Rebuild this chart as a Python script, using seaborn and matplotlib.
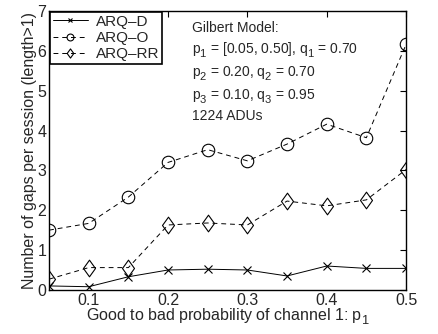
import matplotlib
matplotlib.use("Agg")
import matplotlib.pyplot as plt
from matplotlib.path import Path
import matplotlib._mathtext as _mt
import seaborn as sns
import pandas as pd

p1 = [0.05, 0.10, 0.15, 0.20, 0.25, 0.30, 0.35, 0.40, 0.45, 0.50]
arq_d = [0.10, 0.08, 0.33, 0.50, 0.52, 0.50, 0.35, 0.60, 0.54, 0.54]
arq_o = [1.50, 1.67, 2.33, 3.20, 3.52, 3.24, 3.66, 4.16, 3.82, 6.16]
arq_rr = [0.27, 0.56, 0.56, 1.63, 1.68, 1.63, 2.23, 2.11, 2.26, 3.02]
series = ["ARQ\u2013D", "ARQ\u2013O", "ARQ\u2013RR"]
xticks = [0.1, 0.2, 0.3, 0.4, 0.5]
yticks = [0, 1, 2, 3, 4, 5, 6, 7]

# MATLAB-like subscripts: larger and lower
try:
    _mt.FontConstantsBase.sub1 = 0.5
    _mt.SHRINK_FACTOR = 0.8
except Exception:
    pass

sns.set_theme(style="white")
plt.rcParams["font.family"] = ["Liberation Sans", "DejaVu Sans"]
plt.rcParams["mathtext.fontset"] = "custom"
plt.rcParams["mathtext.rm"] = "Liberation Sans"
plt.rcParams["mathtext.it"] = "Liberation Sans"
plt.rcParams["xtick.direction"] = "in"
plt.rcParams["ytick.direction"] = "in"

fig = plt.figure(figsize=(4.38, 3.34), dpi=100)
ax = fig.add_axes([0.112, 0.132, 0.815, 0.835])

diamond = Path([(0, 1), (0.72, 0), (0, -1), (-0.72, 0), (0, 1)],
               [Path.MOVETO, Path.LINETO, Path.LINETO, Path.LINETO, Path.CLOSEPOLY])

styles = [
    dict(marker="x", linestyle="-", ms=6, mfc="black"),
    dict(marker="o", linestyle="--", ms=9, mfc="none"),
    dict(marker=diamond, linestyle="--", ms=12, mfc="none"),
]

for name, vals, st in zip(series, [arq_d, arq_o, arq_rr], styles):
    df = pd.DataFrame({"p1": p1, "gaps": vals})
    sns.lineplot(data=df, x="p1", y="gaps", ax=ax, color="black", lw=0.7,
                 label=name, marker=st["marker"],
                 markersize=st["ms"], markeredgewidth=0.8,
                 markerfacecolor=st["mfc"], markeredgecolor="black",
                 dashes=False if st["linestyle"] == "-" else (5, 4))
    ax.lines[-1].set_linestyle((0, (5, 4)) if st["linestyle"] == "--" else "-")

ax.set_xlim(0.05, 0.5)
ax.set_ylim(0, 7)
ax.set_xticks(xticks)
ax.set_xticklabels([f"{v:.1f}" for v in xticks])
ax.set_yticks(yticks)
ax.tick_params(axis="both", labelsize=11.5, length=4, width=0.8, color="black",
               top=True, right=True, pad=2)
for s in ax.spines.values():
    s.set_color("black")
    s.set_linewidth(1.0)
ax.set_xlabel("Good to bad probability of channel 1: p$_1$", fontsize=11.5, labelpad=-1)
ax.set_ylabel("Number of gaps per session (length>1)", fontsize=11.5, labelpad=0)

leg = ax.legend(loc="upper left", fontsize=11, frameon=True, fancybox=False,
                edgecolor="black", framealpha=1, borderpad=0.2, labelspacing=0.15,
                handlelength=2.3, handletextpad=0.5, borderaxespad=0.05,
                markerscale=0.55)
leg.get_frame().set_linewidth(1.2)
for h in leg.get_lines():
    h.set_linewidth(0.7)

txt = ("Gilbert Model:\n"
       "p$_1$ = [0.05, 0.50], q$_1$ = 0.70\n"
       "p$_2$ = 0.20, q$_2$ = 0.70\n"
       "p$_3$ = 0.10, q$_3$ = 0.95\n"
       "1224 ADUs")
ax.text(0.23, 6.75, txt, fontsize=10, va="top", ha="left", linespacing=1.4)

fig.savefig("out.png", dpi=100)
